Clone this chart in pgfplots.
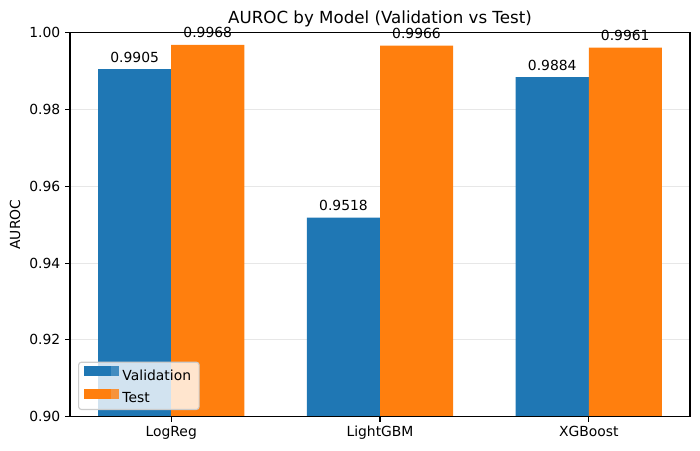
\documentclass[border=0pt]{standalone}
\usepackage{fontspec}
\setmainfont{DejaVu Sans}
\usepackage{pgfplots}
\pgfplotsset{compat=1.18}
\definecolor{mplblue}{HTML}{1F77B4}
\definecolor{mplorange}{HTML}{FF7F0E}
\definecolor{gridgray}{HTML}{E7E7E7}
\definecolor{legframe}{HTML}{CCCCCC}
\pgfplotsset{
  mylegend/.style={
    legend image code/.code={
      \path[sharp corners] (0pt,0pt) rectangle (25.8pt,7.2pt);
      \fill[##1,draw=none,fill opacity=1,sharp corners] (0pt,0pt) rectangle (19.4pt,7.2pt);
    }
  }
}
\begin{document}
\begin{tikzpicture}
\useasboundingbox (-50.4pt,-24.7pt) rectangle (453.6pt,300pt);
\begin{axis}[
  at={(0,0)}, anchor=south west,
  scale only axis, width=446.4pt, height=276.5pt,
  xmin=-0.485, xmax=2.485, ymin=0.90, ymax=1.00,
  xtick={0,1,2}, xticklabels={LogReg,LightGBM,XGBoost},
  ytick={0.90,0.92,0.94,0.96,0.98,1.00},
  yticklabel style={/pgf/number format/.cd, fixed, fixed zerofill, precision=2},
  /pgf/number format/assume math mode=true,
  tick label style={font=\fontsize{10}{12}\selectfont},
  tick align=outside, xtick pos=bottom, ytick pos=left,
  major tick length=3.5pt,
  every tick/.style={black, line width=0.8pt},
  axis line style={line width=0.8pt},
  ymajorgrids, grid style={gridgray, line width=0.8pt},
  ylabel={AUROC},
  ylabel style={at={(axis description cs:-0.0887,0.5)}, anchor=center, rotate=0, font=\fontsize{10}{12}\selectfont},
  title={AUROC by Model (Validation vs Test)},
  title style={at={(0.5,1)}, anchor=base, yshift=0.3pt, inner sep=0pt, font=\fontsize{12}{14}\selectfont},
  ybar, bar width=0.35,
  nodes near coords={\pgfmathprintnumber[fixed,fixed zerofill,precision=4]{\pgfplotspointmeta}},
  nodes near coords style={font=\fontsize{10}{12}\selectfont, black, anchor=base, inner sep=0pt, yshift=5pt},
  legend cell align=left,
  legend style={at={(0,0)}, anchor=south west, xshift=5.8pt, yshift=4.8pt,
    fill=white, fill opacity=0.8, text opacity=1, draw=legframe, line width=0.8pt,
    rounded corners=2pt, font=\fontsize{10}{12}\selectfont,
    inner xsep=3.6pt, inner ysep=3pt, row sep=4pt, column sep=0pt,
    nodes={inner xsep=2.2pt, inner ysep=0pt, text height=7.6pt, text depth=2pt}},
]
\addplot[fill=mplblue, draw=none, bar shift=-0.175, mylegend] coordinates {(0,0.9905) (1,0.9518) (2,0.9884)};
\addlegendentry{Validation}
\addplot[fill=mplorange, draw=none, bar shift=0.175, mylegend] coordinates {(0,0.9968) (1,0.9966) (2,0.9961)};
\addlegendentry{Test}
\end{axis}
\draw[line width=0.8pt] (current axis.south west) rectangle (current axis.north east);
\end{tikzpicture}
\end{document}
